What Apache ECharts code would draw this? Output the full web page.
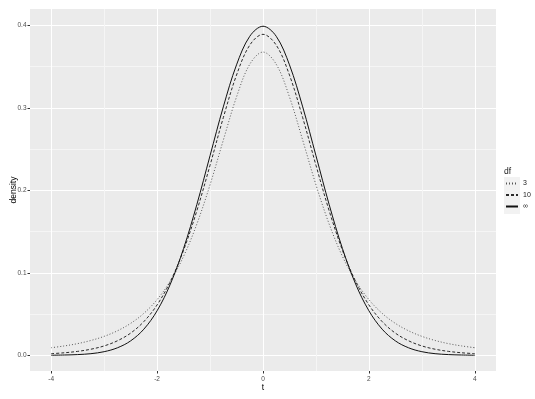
<!DOCTYPE html>
<html>
<head>
<meta charset="utf-8">
<script src="https://cdn.jsdelivr.net/npm/echarts@6/dist/echarts.min.js"></script>
<style>
html,body{margin:0;padding:0;background:#fff;}
#chart{width:535px;height:399px;}
</style>
</head>
<body>
<div id="chart"></div>
<script>
// t values (x axis)
var tValues = [-4,-3.75,-3.5,-3.25,-3,-2.75,-2.5,-2.25,-2,-1.75,-1.5,-1.25,-1,-0.75,-0.5,-0.25,0,
  0.25,0.5,0.75,1,1.25,1.5,1.75,2,2.25,2.5,2.75,3,3.25,3.5,3.75,4];
// density for df = 3
var dens3 = [0.0092,0.0114,0.0142,0.0180,0.0230,0.0297,0.0387,0.0509,0.0675,0.0900,0.1200,0.1590,0.2067,0.2607,0.3132,0.3528,0.3676,
  0.3528,0.3132,0.2607,0.2067,0.1590,0.1200,0.0900,0.0675,0.0509,0.0387,0.0297,0.0230,0.0180,0.0142,0.0114,0.0092];
// density for df = 10
var dens10 = [0.0020,0.0031,0.0048,0.0074,0.0114,0.0176,0.0269,0.0409,0.0611,0.0895,0.1274,0.1751,0.2304,0.2880,0.3397,0.3760,0.3891,
  0.3760,0.3397,0.2880,0.2304,0.1751,0.1274,0.0895,0.0611,0.0409,0.0269,0.0176,0.0114,0.0074,0.0048,0.0031,0.0020];
// density for df = infinity
var densInf = [0.0001,0.0004,0.0009,0.0020,0.0044,0.0091,0.0175,0.0317,0.0540,0.0863,0.1295,0.1826,0.2420,0.3011,0.3521,0.3867,0.3989,
  0.3867,0.3521,0.3011,0.2420,0.1826,0.1295,0.0863,0.0540,0.0317,0.0175,0.0091,0.0044,0.0020,0.0009,0.0004,0.0001];
var seriesNames = ['3','10','\u221E'];
var xMajor = [-4,-2,0,2,4];
var xMinor = [-3,-1,1,3];
var yMajor = [0,0.1,0.2,0.3,0.4];
var yMinor = [0.05,0.15,0.25,0.35];

function pairs(ys){ return tValues.map(function(x,i){ return [x, ys[i]]; }); }

var FONT = '"Liberation Sans", Arial, sans-serif';
var chart = echarts.init(document.getElementById('chart'), null, {renderer:'canvas'});
var xMin = -4.4, xMax = 4.4, yMin = -0.019, yMax = 0.4198;

var option = {
  animation: false,
  backgroundColor: '#ffffff',
  textStyle: {fontFamily: FONT},
  grid: {left: 30, top: 9, right: 39, bottom: 28, show: true, backgroundColor: '#EBEBEB', borderWidth: 0,
    containLabel: false, outerBoundsMode: 'none'},
  xAxis: [{
    type: 'value', min: xMin, max: xMax, position: 'bottom',
    name: 't', nameLocation: 'middle', nameGap: 12, nameMoveOverlap: false,
    nameTextStyle: {color: '#000', fontSize: 8.5, fontFamily: FONT},
    axisLine: {show: false, onZero: false},
    axisTick: {show: true, length: 2.5, lineStyle: {color: '#333', width: 1}, customValues: xMajor},
    axisLabel: {customValues: xMajor, color: '#4D4D4D', fontSize: 6.5, margin: 5, fontFamily: FONT},
    splitLine: {show: true, lineStyle: {color: '#FFFFFF', width: 1}}
  },{
    type: 'value', min: xMin, max: xMax, position: 'top',
    axisLine: {show: false, onZero: false}, axisLabel: {show: false},
    axisTick: {show: false, customValues: xMinor},
    splitLine: {show: true, lineStyle: {color: '#F5F5F5', width: 1}}
  }],
  yAxis: [{
    type: 'value', min: yMin, max: yMax, position: 'left',
    name: 'density', nameLocation: 'middle', nameGap: 11.5, nameRotate: 90, nameMoveOverlap: false,
    nameTextStyle: {color: '#000', fontSize: 8.5, fontFamily: FONT},
    axisLine: {show: false, onZero: false},
    axisTick: {show: true, length: 2.5, lineStyle: {color: '#333', width: 1}, customValues: yMajor},
    axisLabel: {customValues: yMajor, color: '#4D4D4D', fontSize: 6.5, margin: 3.5, fontFamily: FONT,
      formatter: function(v){ return v.toFixed(1); }},
    splitLine: {show: true, lineStyle: {color: '#FFFFFF', width: 1}}
  },{
    type: 'value', min: yMin, max: yMax, position: 'right',
    axisLine: {show: false, onZero: false}, axisLabel: {show: false},
    axisTick: {show: false, customValues: yMinor},
    splitLine: {show: true, lineStyle: {color: '#F5F5F5', width: 1}}
  }],
  legend: {
    orient: 'vertical', left: 505, top: 180, padding: 0,
    itemWidth: 12, itemHeight: 8, itemGap: 4.5,
    data: seriesNames,
    itemStyle: {opacity: 0},
    textStyle: {color: '#1a1a1a', fontSize: 7, fontFamily: FONT}
  },
  graphic: [
    {type: 'rect', left: 504, top: 177, shape: {width: 16, height: 37}, style: {fill: '#F2F2F2'}, z: -1, silent: true},
    {type: 'text', left: 504, top: 167, style: {text: 'df', fill: '#1a1a1a', fontSize: 8.5, fontFamily: FONT}}
  ],
  series: [
    {name: seriesNames[0], type: 'line', data: pairs(dens3), smooth: 0.35, showSymbol: false, symbol: 'none',
      lineStyle: {color: '#555', width: 1, type: [1,2]}, itemStyle: {color: '#555'}},
    {name: seriesNames[1], type: 'line', data: pairs(dens10), smooth: 0.35, showSymbol: false, symbol: 'none',
      lineStyle: {color: '#2a2a2a', width: 1, type: [3,2]}, itemStyle: {color: '#2a2a2a'}},
    {name: seriesNames[2], type: 'line', data: pairs(densInf), smooth: 0.35, showSymbol: false, symbol: 'none',
      lineStyle: {color: '#111', width: 1, type: 'solid'}, itemStyle: {color: '#111'}}
  ]
};
chart.setOption(option);
</script>
</body>
</html>
